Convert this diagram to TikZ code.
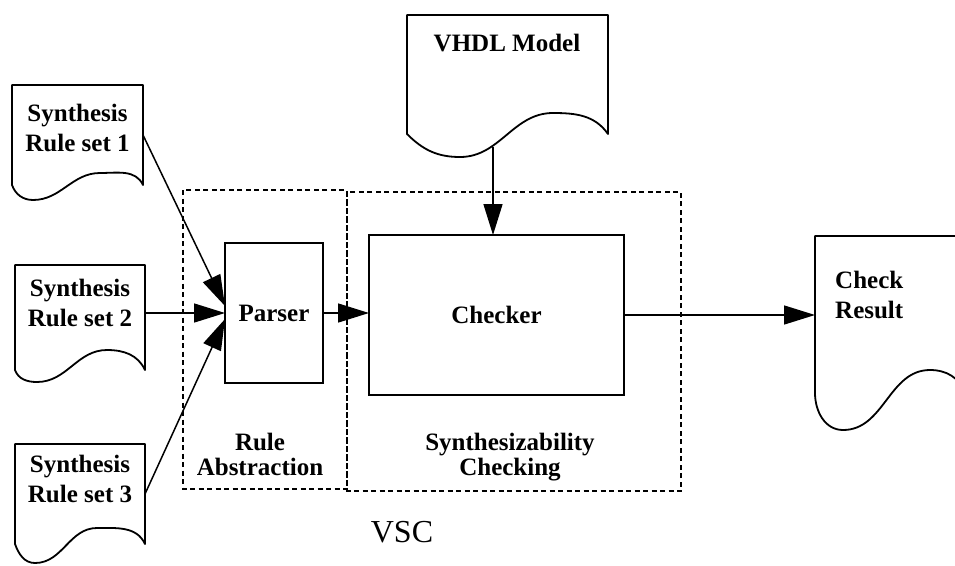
\documentclass[tikz,border=0pt]{standalone}
\usepackage{fontspec}
\setmainfont{Liberation Serif}
\usetikzlibrary{arrows.meta,calc}

\begin{document}
\begin{tikzpicture}[x=1pt,y=1pt,
  doclbl/.style={font=\fontsize{25}{30}\selectfont\bfseries, align=center, inner sep=0pt},
  grplbl/.style={font=\fontsize{25}{25}\selectfont\bfseries, align=center, inner sep=0pt},
  docarea/.style={draw=none, inner sep=0pt, outer sep=0pt},
  docline/.style={line width=1.8pt, line join=round},
  proc/.style={draw, line width=2pt, inner sep=0pt, outer sep=0pt,
               font=\fontsize{25}{30}\selectfont\bfseries},
  flow/.style={line width=1.5pt, -{Triangle[length=31pt,width=19pt]}},
  group/.style={line width=1.4pt, dash pattern=on 5pt off 3.5pt}
]
\useasboundingbox (0,0) rectangle (955,-565);
\clip (0,0) rectangle (955,-565);

% ---- document symbols (straight part as invisible nodes) ----
\node[docarea, minimum width=131pt, minimum height=100pt] (doc1) at (77.5,-135) {};
\node[docarea, minimum width=130pt, minimum height=105pt] (doc2) at (80,-317.5) {};
\node[docarea, minimum width=130pt, minimum height=100pt] (doc3) at (80,-494) {};
\node[docarea, minimum width=201pt, minimum height=119pt] (vhdl) at (507.5,-74.5) {};
\node[docarea, minimum width=150pt, minimum height=157pt] (result) at (890,-314.5) {};

% wavy lower edges
\draw[docline] (doc1.south west) to[out=-70,in=180] (33,-200) to[out=0,in=180] (100,-173)
  to[out=0,in=115] (doc1.south east) -- (doc1.north east) -- (doc1.north west) -- cycle;
\draw[docline] (doc2.south west) to[out=-70,in=180] (37,-382) to[out=0,in=180] (107,-350)
  to[out=0,in=115] (doc2.south east) -- (doc2.north east) -- (doc2.north west) -- cycle;
\draw[docline] (doc3.south west) to[out=-70,in=180] (35,-563) to[out=0,in=180] (97,-528)
  to[out=0,in=115] (doc3.south east) -- (doc3.north east) -- (doc3.north west) -- cycle;
\draw[docline] (vhdl.south west) to[out=-45,in=180] (460,-157) to[out=0,in=180] (553,-113)
  to[out=0,in=125] (vhdl.south east) -- (vhdl.north east) -- (vhdl.north west) -- cycle;
\draw[docline] (result.south west) to[out=-90,in=180] (843,-430) to[out=0,in=180] (930,-370)
  to[out=0,in=110] (result.south east) -- (result.north east) -- (result.north west) -- cycle;

% document texts
\node[doclbl] (doc1label) at (77.5,-127.5) {Synthesis\\Rule set 1};
\node[doclbl] (doc2label) at (80,-303) {Synthesis\\Rule set 2};
\node[doclbl] (doc3label) at (80,-479) {Synthesis\\Rule set 3};
\node[doclbl] (vhdllabel) at (507,-43) {VHDL Model};
\node[doclbl, align=left, anchor=west] (resultlabel) at (835,-294.5) {Check\\Result};

% ---- VSC groups ----
\draw[group] (183,-190) rectangle (347,-489);
\draw[group] (347,-192) rectangle (681,-491);
\node[grplbl] (rulelbl) at (260,-454.5) {Rule\\Abstraction};
\node[grplbl] (synlbl) at (510,-457.5) {Synthesizability\\Checking};
\node[font=\fontsize{32}{32}\selectfont, inner sep=0pt] (vsc) at (402,-532) {VSC};

% ---- processing blocks ----
\node[proc, minimum width=98pt, minimum height=140pt] (parser) at (274,-313) {Parser};
\node[proc, minimum width=255pt, minimum height=160pt] (checker) at (496.5,-315) {Checker};

% ---- data flow ----
\coordinate (vhdlout) at (493,-147);
\draw[flow] (doc1.east) -- ($(parser.west)+(0,7)$);
\draw[flow] (doc2.east |- parser.west) -- (parser.west);
\draw[flow] (doc3.east) -- ($(parser.west)+(0,-6)$);
\draw[flow] (parser.east) -- (checker.west |- parser.east);
\draw[flow] (vhdlout) -- (vhdlout |- checker.north);
\draw[flow] (checker.east) -- (result.west |- checker.east);
\end{tikzpicture}
\end{document}
